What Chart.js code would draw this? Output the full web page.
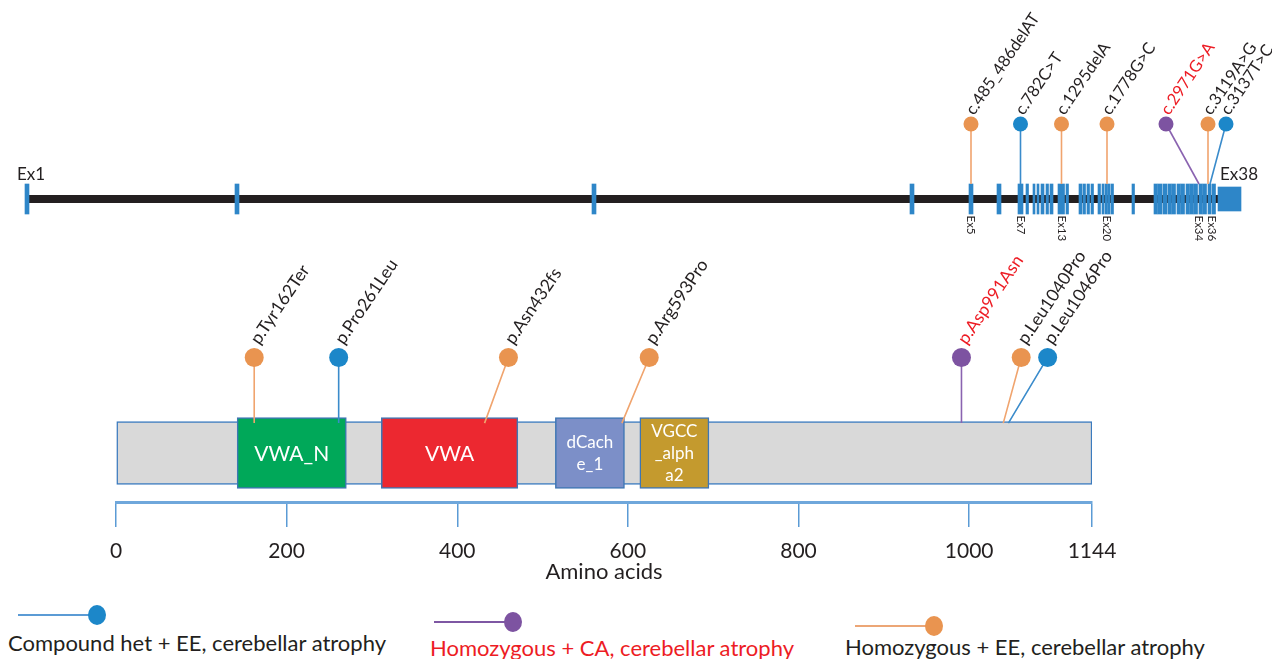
<!DOCTYPE html>
<html>
<head>
<meta charset="utf-8">
<title>CACNA2D2 variants</title>
<script src="https://cdn.jsdelivr.net/npm/chart.js@4.4.1/dist/chart.umd.min.js"></script>
<style>
  html, body { margin: 0; padding: 0; background: #ffffff; }
  #figure { position: relative; width: 1272px; height: 659px; overflow: hidden; font-family: Lato, "Open Sans", sans-serif; }
  #gene { position: absolute; left: 0; top: 4px; }
  #prot { position: absolute; left: 0; top: 240px; }
  .leg-line { position: absolute; height: 2px; }
  .leg-dot { position: absolute; width: 18px; height: 20px; border-radius: 50%; }
  .leg-text { position: absolute; font-size: 22px; line-height: 22px; white-space: nowrap; }
</style>
</head>
<body>
<div id="figure">
  <canvas id="gene" width="1272" height="240"></canvas>
  <canvas id="prot" width="1272" height="346"></canvas>
</div>
<script>
// ---- gene structure (kb from the first exon) ----
const exonSpansKb = [
  [-0.1, 0.3], [20.9, 21.3], [56.6, 57.0], [88.4, 88.8], [94.3, 94.7], [97.1, 97.5],
  [99.2, 99.7], [100.0, 100.25], [100.7, 100.9], [101.1, 101.3], [101.5, 101.8], [102.0, 102.25],
  [102.4, 102.7], [103.2, 103.85], [104.0, 104.25], [105.3, 105.6], [105.7, 105.95], [106.1, 106.35],
  [106.5, 106.75], [107.2, 107.45], [107.6, 107.8], [107.9, 108.15], [108.2, 108.4], [108.5, 108.75],
  [110.6, 110.85], [112.8, 113.15], [113.2, 113.6], [113.7, 114.1], [114.2, 114.55], [114.6, 114.95],
  [115.1, 115.45], [115.5, 115.85], [116.0, 116.35], [116.4, 116.75], [116.8, 117.15], [117.3, 117.65],
  [117.7, 118.05], [118.2, 118.5], [118.6, 118.95]
];
const lastExonKb = [119.2, 121.5];
const intronEndKb = 119.2;

const exonTickNames = ['Ex5', 'Ex7', 'Ex13', 'Ex20', 'Ex34', 'Ex36'];
const exonTickKb = [94.5, 99.45, 103.55, 108.1, 117.3, 118.6];

// ---- variants (same order in both tracks) ----
const variantGroups = ['hom', 'het', 'hom', 'hom', 'ca', 'hom', 'het'];
const cdnaVariants = ['c.485_486delAT', 'c.782C>T', 'c.1295delA', 'c.1778G>C', 'c.2971G>A', 'c.3119A>G', 'c.3137T>C'];
const cdnaSiteKb = [94.5, 99.45, 103.55, 108.1, 117.3, 118.2, 118.4];
const cdnaHeadKb = [94.5, 99.45, 103.55, 108.1, 114.0, 118.2, 120.0];

const proteinVariants = ['p.Tyr162Ter', 'p.Pro261Leu', 'p.Asn432fs', 'p.Arg593Pro', 'p.Asp991Asn', 'p.Leu1040Pro', 'p.Leu1046Pro'];
const proteinResidue = [162, 261, 432, 593, 991, 1040, 1046];
const proteinHeadAa = [162, 261, 460, 625, 991, 1061, 1092];

// ---- protein ----
const proteinLength = 1144;
const domainNames = ['VWA_N', 'VWA', 'dCache_1', 'VGCC_alpha2'];
const domainStart = [142, 311, 515, 614];
const domainEnd = [270, 471, 596, 695];
const domainLabelLines = [['VWA_N'], ['VWA'], ['dCach', 'e_1'], ['VGCC', '_alph', 'a2']];
const domainColors = ['#00A859', '#EC2830', '#7C8FC8', '#C49A2E'];
const aaTicks = [0, 200, 400, 600, 800, 1000, 1144];

// ---- legend ----
const legendGroups = ['het', 'ca', 'hom'];
const legendLabels = ['Compound het + EE, cerebellar atrophy', 'Homozygous + CA, cerebellar atrophy', 'Homozygous + EE, cerebellar atrophy'];

const FONT = 'Lato, "Open Sans", sans-serif';
const groupStyle = {
  het: { head: '#1C87C9', stem: '#3A8BCB', text: '#231F20', legendLine: '#5B9BD5' },
  ca:  { head: '#7D53A1', stem: '#8A63B0', text: '#ED1C24', legendLine: '#7E57A3' },
  hom: { head: '#E99450', stem: '#F0A46E', text: '#231F20', legendLine: '#ECA676' }
};
const groupKeys = ['het', 'ca', 'hom'];

function stemPoints(sites, heads, group, yHead, yBase) {
  const pts = [];
  variantGroups.forEach((g, i) => {
    if (g !== group) return;
    pts.push({ x: heads[i], y: yHead }, { x: sites[i], y: yBase }, { x: sites[i], y: null });
  });
  return pts;
}
function headPoints(heads, group, yHead) {
  const pts = [];
  variantGroups.forEach((g, i) => { if (g === group) pts.push({ x: heads[i], y: yHead }); });
  return pts;
}
function lollipopDatasets(sites, heads, yHead, yBase, radius) {
  const sets = [];
  groupKeys.forEach(g => {
    sets.push({ type: 'line', data: stemPoints(sites, heads, g, yHead, yBase), borderColor: groupStyle[g].stem,
      borderWidth: 1.6, pointRadius: 0, spanGaps: false, order: 2 });
  });
  groupKeys.forEach(g => {
    sets.push({ type: 'scatter', data: headPoints(heads, g, yHead), backgroundColor: groupStyle[g].head,
      borderWidth: 0, pointRadius: radius, order: 1 });
  });
  return sets;
}
function tiltedText(ctx, text, x, y, color, size) {
  ctx.save();
  ctx.translate(x, y);
  ctx.rotate(-56 * Math.PI / 180);
  ctx.fillStyle = color;
  ctx.font = size + 'px ' + FONT;
  ctx.textAlign = 'left';
  ctx.textBaseline = 'alphabetic';
  ctx.fillText(text, 0, 0);
  ctx.restore();
}

const GENE_HEAD_Y = 5, GENE_EXON_TOP = 1;
const geneText = {
  id: 'geneText',
  afterDatasetsDraw(chart) {
    const { ctx, scales: { x, y } } = chart;
    ctx.save();
    ctx.fillStyle = '#231F20';
    ctx.font = '17px ' + FONT;
    ctx.textBaseline = 'alphabetic';
    ctx.textAlign = 'center';
    ctx.fillText('Ex1', x.getPixelForValue(0.5), y.getPixelForValue(1.3));
    ctx.textAlign = 'left';
    ctx.fillText('Ex38', x.getPixelForValue(119.4), y.getPixelForValue(1.3));
    ctx.font = '11.5px ' + FONT;
    exonTickNames.forEach((t, i) => {
      ctx.save();
      ctx.translate(x.getPixelForValue(exonTickKb[i]), y.getPixelForValue(-1.1));
      ctx.rotate(Math.PI / 2);
      ctx.textAlign = 'left';
      ctx.textBaseline = 'middle';
      ctx.fillText(t, 0, 0);
      ctx.restore();
    });
    ctx.restore();
    cdnaVariants.forEach((t, i) => {
      const px = x.getPixelForValue(cdnaHeadKb[i]);
      const py = y.getPixelForValue(GENE_HEAD_Y);
      tiltedText(ctx, t, px + 3, py - 8, groupStyle[variantGroups[i]].text, 16.5);
    });
  }
};

new Chart(document.getElementById('gene'), {
  type: 'scatter',
  data: {
    datasets: [
      { type: 'line', data: [{ x: 0, y: 0 }, { x: intronEndKb, y: 0 }], borderColor: '#231F20', borderWidth: 8,
        pointRadius: 0, order: 6 },
      { type: 'bar', indexAxis: 'y', stack: 'exon', data: exonSpansKb.map(s => ({ y: 0, x: s })),
        backgroundColor: '#2E86C8', borderWidth: 0, barThickness: 30, order: 5 },
      { type: 'bar', indexAxis: 'y', stack: 'exon', data: [{ y: 0, x: lastExonKb }],
        backgroundColor: '#2E86C8', borderWidth: 0, barThickness: 24, order: 5 },
      ...lollipopDatasets(cdnaSiteKb, cdnaHeadKb, GENE_HEAD_Y, GENE_EXON_TOP, 7.5)
    ]
  },
  options: {
    responsive: false, animation: false, events: [],
    layout: { autoPadding: false, padding: { left: 24, right: 30, top: 0, bottom: 0 } },
    scales: {
      x: { type: 'linear', min: -0.2, max: 121.6, display: false, stacked: false, offset: false },
      y: { type: 'linear', min: -3, max: 13, display: false, offset: false }
    },
    plugins: { legend: { display: false }, tooltip: { enabled: false } }
  },
  plugins: [geneText]
});

const PROT_HEAD_Y = 2.95, PROT_BAR_TOP = 1.61;
const protText = {
  id: 'protText',
  afterDatasetsDraw(chart) {
    const { ctx, scales: { x, y } } = chart;
    ctx.save();
    ctx.fillStyle = '#ffffff';
    ctx.textAlign = 'center';
    ctx.textBaseline = 'middle';
    domainLabelLines.forEach((lines, i) => {
      const cx = x.getPixelForValue((domainStart[i] + domainEnd[i]) / 2);
      const cy = y.getPixelForValue(1);
      const size = lines.length === 1 ? 21 : 17;
      const lh = lines.length === 1 ? 0 : 22;
      ctx.font = size + 'px ' + FONT;
      lines.forEach((ln, k) => ctx.fillText(ln, cx, cy + (k - (lines.length - 1) / 2) * lh + 1));
    });
    ctx.restore();
    proteinVariants.forEach((t, i) => {
      const px = x.getPixelForValue(proteinHeadAa[i]);
      const py = y.getPixelForValue(PROT_HEAD_Y);
      tiltedText(ctx, t, px + 5, py - 12, groupStyle[variantGroups[i]].text, 17.5);
    });
  }
};

new Chart(document.getElementById('prot'), {
  type: 'scatter',
  data: {
    datasets: [
      { type: 'bar', indexAxis: 'y', stack: 'prot', data: [{ y: 1, x: [0, proteinLength] }],
        backgroundColor: '#D9D9D9', borderColor: '#3B7BBF', borderWidth: 1.5, borderSkipped: false,
        barThickness: 63, order: 5 },
      { type: 'bar', indexAxis: 'y', stack: 'prot', data: domainStart.map((s, i) => ({ y: 1, x: [s, domainEnd[i]] })),
        backgroundColor: domainColors, borderColor: '#3E76B4', borderWidth: 1.5, borderSkipped: false,
        barThickness: 71, order: 4 },
      ...lollipopDatasets(proteinResidue, proteinHeadAa, PROT_HEAD_Y, PROT_BAR_TOP, 9.5)
    ]
  },
  options: {
    responsive: false, animation: false, events: [],
    layout: { autoPadding: false, padding: { left: 116, right: 180, top: 17, bottom: 3 } },
    scales: {
      x: {
        type: 'linear', min: 0, max: proteinLength, stacked: false, offset: false,
        afterBuildTicks: s => { s.ticks = aaTicks.map(v => ({ value: v })); },
        grid: { drawOnChartArea: false, drawTicks: true, tickLength: 25, color: '#5B9BD5', lineWidth: 1.5, offset: false },
        border: { display: true, color: '#6FA7DB', width: 3 },
        ticks: { color: '#231F20', font: { family: FONT, size: 21, lineHeight: 1 }, padding: 14,
          maxRotation: 0, autoSkip: false, callback: v => String(v) },
        title: { display: true, text: 'Amino acids', color: '#231F20',
          font: { family: FONT, size: 22, lineHeight: 1 }, padding: { top: -15, bottom: 0 } }
      },
      y: { type: 'linear', min: 0, max: 5, display: false, offset: false }
    },
    plugins: { legend: { display: false }, tooltip: { enabled: false } }
  },
  plugins: [protText]
});

// legend row
const legendLeft = [8, 424, 845];
const legendLineY = [615, 622, 626];
const legendTextLeft = [8, 430, 845];
const legendTextTop = [632, 637, 636];
const fig = document.getElementById('figure');
legendGroups.forEach((g, i) => {
  const st = groupStyle[g];
  const line = document.createElement('div');
  line.className = 'leg-line';
  line.style.cssText = `left:${legendLeft[i] + 10}px;top:${legendLineY[i] - 1}px;width:72px;background:${st.legendLine}`;
  const dot = document.createElement('div');
  dot.className = 'leg-dot';
  dot.style.cssText = `left:${legendLeft[i] + 80}px;top:${legendLineY[i] - 10}px;background:${st.head}`;
  const txt = document.createElement('div');
  txt.className = 'leg-text';
  txt.style.cssText = `left:${legendTextLeft[i]}px;top:${legendTextTop[i]}px;color:${st.text}`;
  txt.textContent = legendLabels[i];
  fig.append(line, dot, txt);
});
</script>
</body>
</html>
